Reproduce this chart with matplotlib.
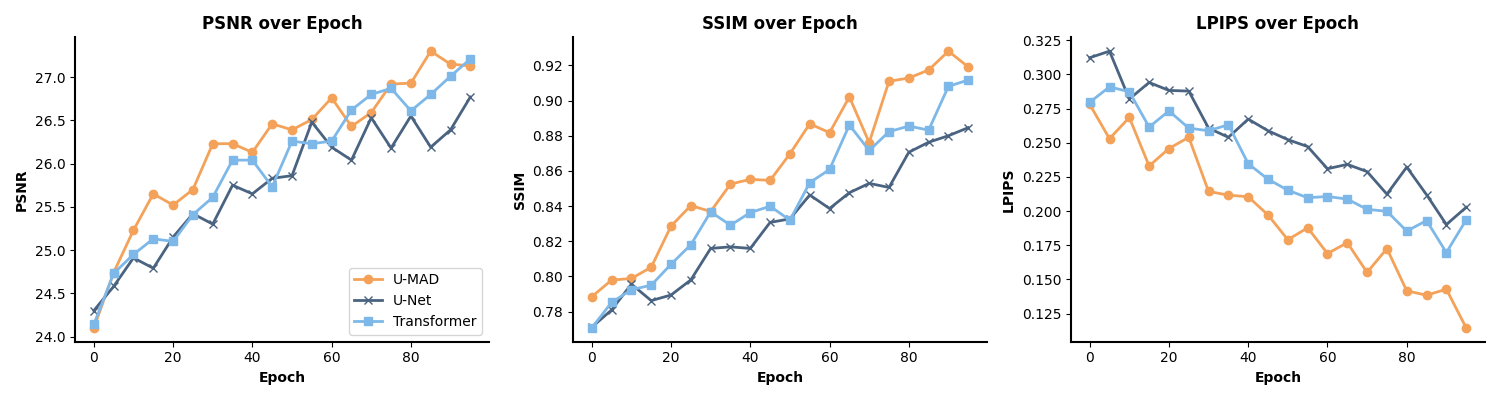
import matplotlib
matplotlib.use("Agg")
import matplotlib.pyplot as plt

epochs = list(range(0, 100, 5))

psnr_umad = [24.10, 24.74, 25.23, 25.65, 25.52, 25.70, 26.23, 26.23, 26.13, 26.46,
             26.39, 26.51, 26.76, 26.43, 26.59, 26.92, 26.93, 27.30, 27.15, 27.13]
psnr_unet = [24.30, 24.58, 24.91, 24.79, 25.15, 25.42, 25.30, 25.75, 25.65, 25.83,
             25.86, 26.48, 26.19, 26.04, 26.53, 26.18, 26.55, 26.19, 26.39, 26.77]
psnr_trans = [24.14, 24.73, 24.95, 25.13, 25.10, 25.41, 25.61, 26.04, 26.04, 25.73,
              26.26, 26.23, 26.26, 26.62, 26.80, 26.87, 26.61, 26.80, 27.01, 27.21]

ssim_umad = [0.7884, 0.7979, 0.7988, 0.8052, 0.8286, 0.8403, 0.8369, 0.8525, 0.8552, 0.8546,
             0.8697, 0.8868, 0.8817, 0.9021, 0.8761, 0.9110, 0.9128, 0.9174, 0.9281, 0.9191]
ssim_unet = [0.7711, 0.7809, 0.7956, 0.7862, 0.7894, 0.7980, 0.8159, 0.8168, 0.8159, 0.8307,
             0.8327, 0.8463, 0.8386, 0.8476, 0.8529, 0.8506, 0.8706, 0.8763, 0.8800, 0.8846]
ssim_trans = [0.7707, 0.7852, 0.7924, 0.7950, 0.8069, 0.8180, 0.8367, 0.8291, 0.8363, 0.8399,
              0.8320, 0.8533, 0.8608, 0.8861, 0.8716, 0.8823, 0.8855, 0.8832, 0.9081, 0.9117]

lpips_umad = [0.2781, 0.2530, 0.2685, 0.2330, 0.2458, 0.2540, 0.2144, 0.2117, 0.2105, 0.1972,
              0.1791, 0.1878, 0.1690, 0.1769, 0.1552, 0.1726, 0.1417, 0.1385, 0.1429, 0.1146]
lpips_unet = [0.3122, 0.3170, 0.2820, 0.2941, 0.2883, 0.2878, 0.2607, 0.2540, 0.2673, 0.2588,
              0.2523, 0.2472, 0.2310, 0.2342, 0.2289, 0.2124, 0.2322, 0.2120, 0.1902, 0.2028]
lpips_trans = [0.2796, 0.2909, 0.2873, 0.2615, 0.2733, 0.2607, 0.2588, 0.2632, 0.2347, 0.2233,
               0.2153, 0.2098, 0.2107, 0.2088, 0.2013, 0.1999, 0.1854, 0.1931, 0.1697, 0.1936]

models = ["U-MAD", "U-Net", "Transformer"]
colors = ["#F4A259", "#4A6380", "#7DB8E8"]
markers = ["o", "x", "s"]

panels = [
    ("PSNR over Epoch", "PSNR", [psnr_umad, psnr_unet, psnr_trans]),
    ("SSIM over Epoch", "SSIM", [ssim_umad, ssim_unet, ssim_trans]),
    ("LPIPS over Epoch", "LPIPS", [lpips_umad, lpips_unet, lpips_trans]),
]

fig, axes = plt.subplots(1, 3, figsize=(15, 4), dpi=100)
for i, (ax, (title, ylabel, series)) in enumerate(zip(axes, panels)):
    for name, vals, c, m in zip(models, series, colors, markers):
        ax.plot(epochs, vals, color=c, marker=m, markersize=6, linewidth=2, label=name)
    ax.set_title(title, fontsize=12, fontweight="bold")
    ax.set_xlabel("Epoch", fontsize=10, fontweight="bold")
    ax.set_ylabel(ylabel, fontsize=10, fontweight="bold")
    ax.spines["top"].set_visible(False)
    ax.spines["right"].set_visible(False)
    ax.spines["left"].set_linewidth(1.5)
    ax.spines["bottom"].set_linewidth(1.5)
    ax.set_xticks([0, 20, 40, 60, 80])
    if i == 0:
        ax.legend(loc="lower right", fontsize=10)

fig.tight_layout()
fig.savefig("out.png", dpi=100)
